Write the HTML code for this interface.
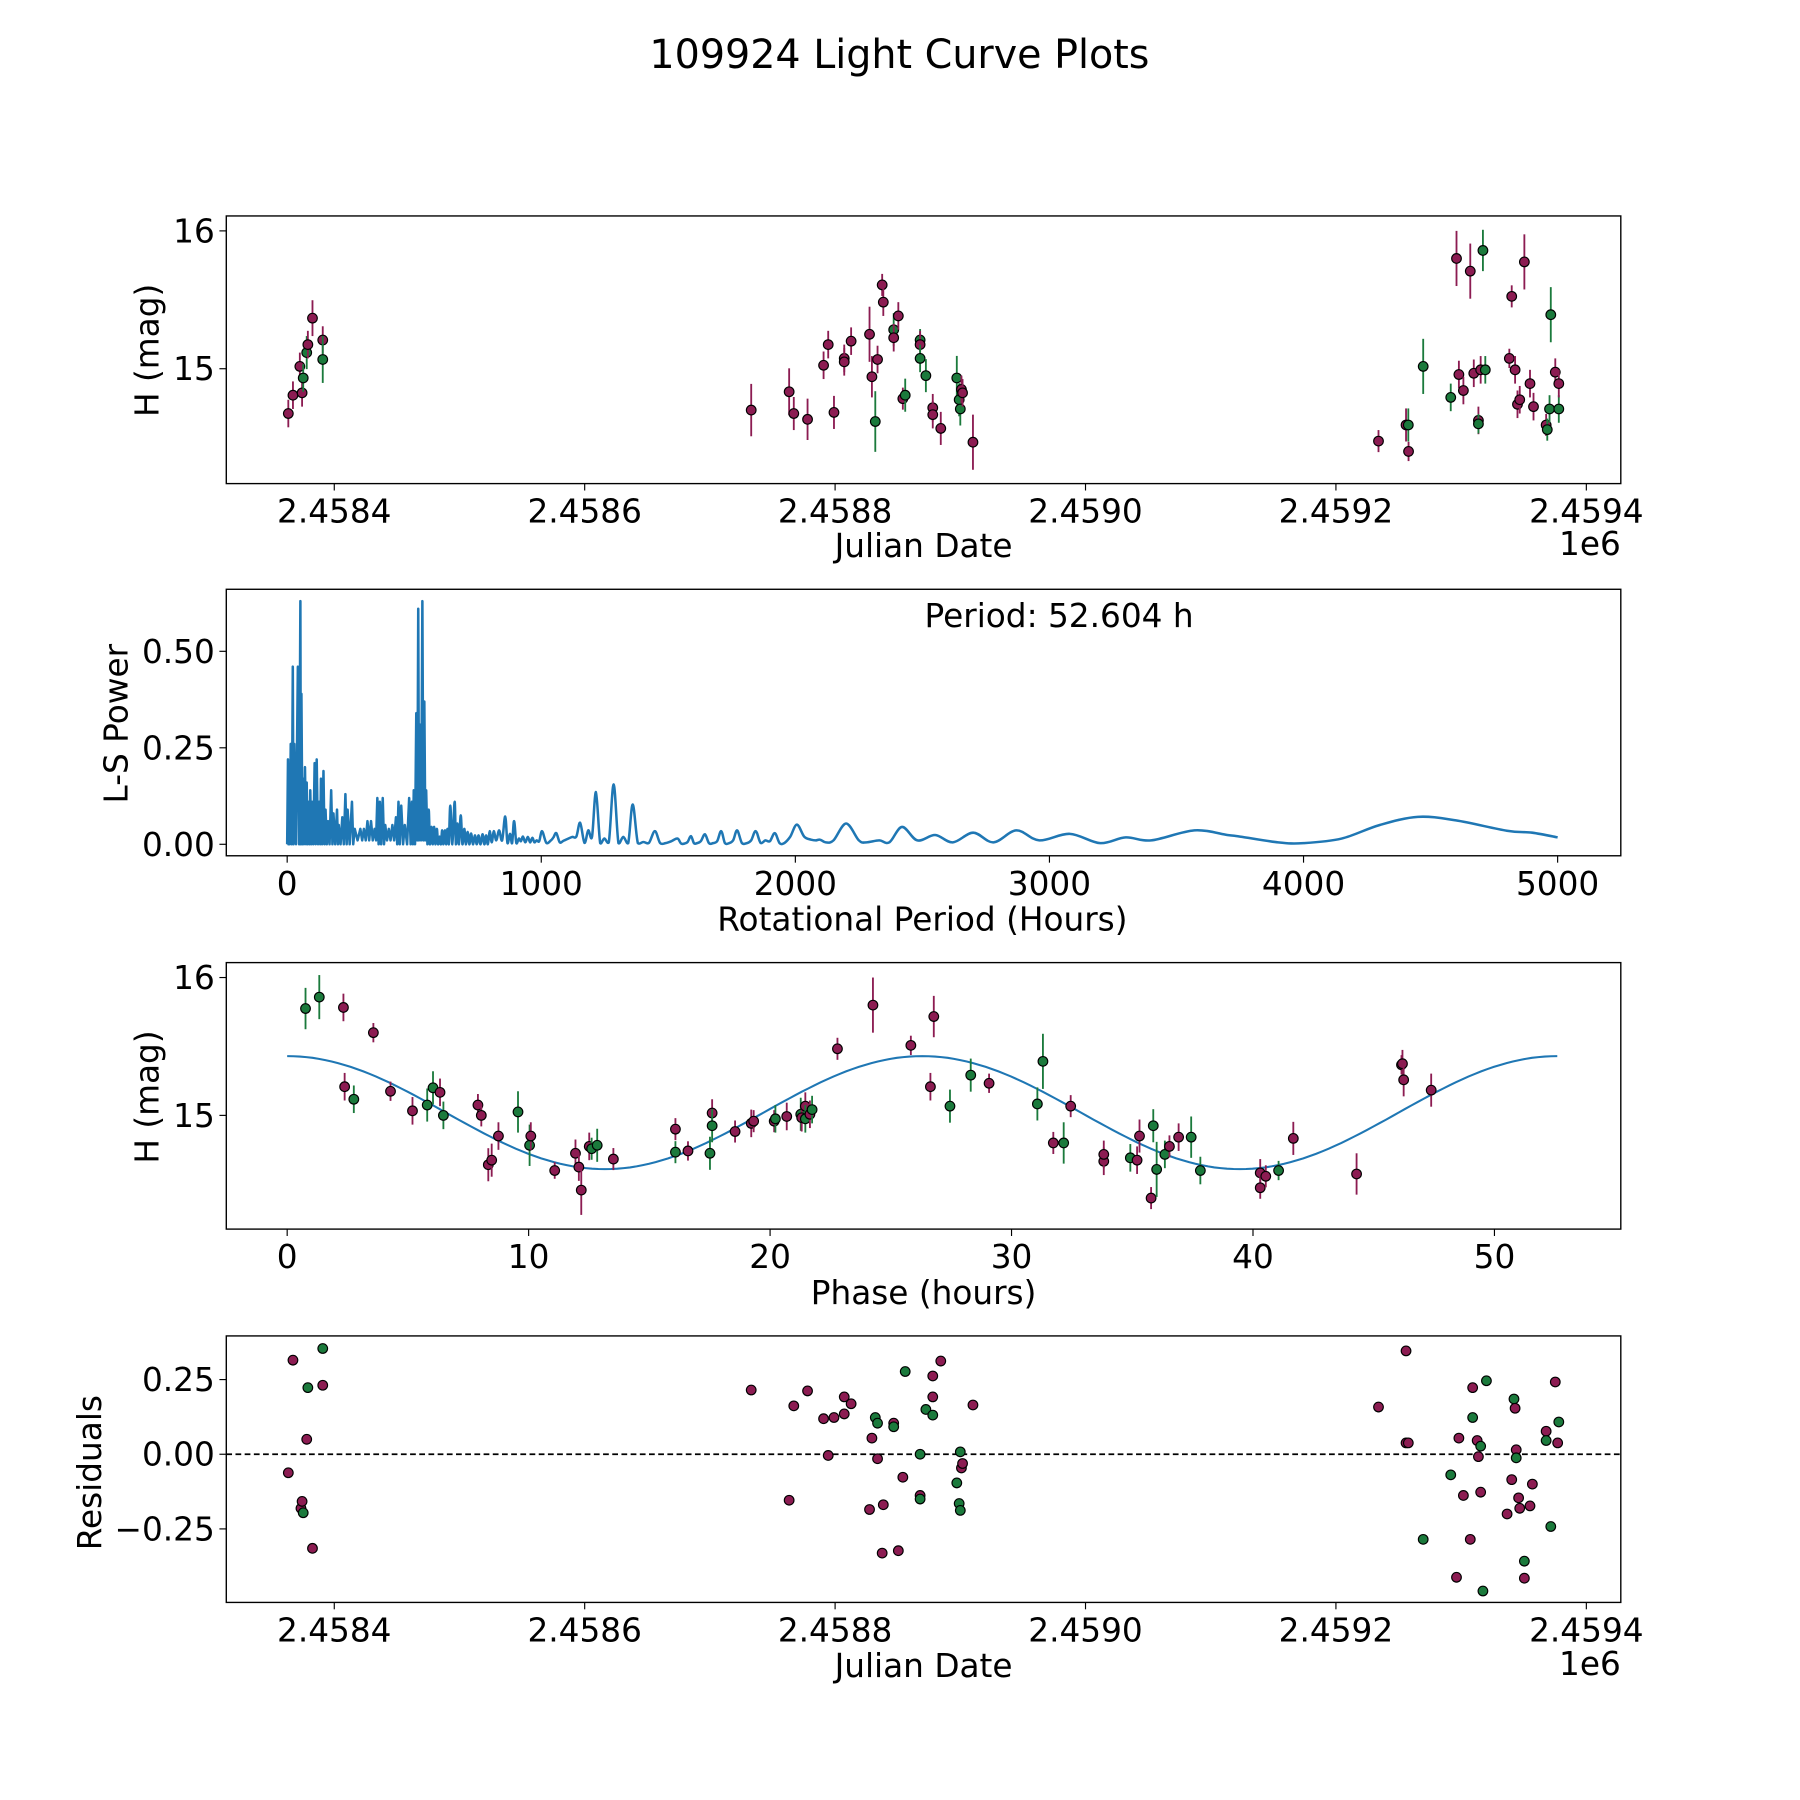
<!DOCTYPE html>
<html><head><meta charset="utf-8"><style>
html,body{margin:0;padding:0;background:#fff}
svg{display:block}
text{font-family:"DejaVu Sans","Liberation Sans",sans-serif;fill:#000}
</style></head><body>
<svg id="fig" width="1800" height="1800" viewBox="0 0 1567 1567" xmlns="http://www.w3.org/2000/svg">
<text x="783" y="59" font-size="34.5" text-anchor="middle">109924 Light Curve Plots</text>
</svg>
<script>
// ---------- DATA ----------
const lcJD = [2458363.3,2458367.0,2458372.5,2458374.3,2458375.2,2458378.0,2458378.9,2458382.6,2458390.8,2458390.8,
2458733.0,2458763.3,2458767.0,2458778.0,2458790.8,2458794.5,2458799.1,2458807.3,2458807.3,2458812.8,2458827.5,2458829.4,2458832.1,2458833.9,2458837.6,2458838.5,2458846.8,2458846.8,2458850.5,2458854.1,2458856.0,2458867.9,2458867.9,2458867.9,2458872.5,2458878.0,2458878.0,2458884.4,2458897.2,2458899.1,2458900.0,2458900.9,2458901.8,2458910.1,
2459234.0,2459256.0,2459257.8,2459258.0,2459269.7,2459291.7,2459296.3,2459298.2,2459301.8,2459307.3,2459310.1,2459313.8,2459313.8,2459315.6,2459317.4,2459319.3,2459338.5,2459340.4,2459343.1,2459345.0,2459346.8,2459350.5,2459355.0,2459357.8,2459367.9,2459368.8,2459370.6,2459371.6,2459375.2,2459378.0,2459378.0];
const lcMag = [14.675,14.808,15.017,14.825,14.933,15.117,15.175,15.367,15.208,15.067,
14.700,14.833,14.675,14.633,15.025,15.175,14.683,15.075,15.05,15.2,15.25,14.942,14.617,15.067,15.608,15.483,15.283,15.225,15.383,14.783,14.808,15.208,15.175,15.075,14.95,14.717,14.667,14.567,14.933,14.775,14.708,14.85,14.825,14.467,
14.475,14.592,14.592,14.4,15.017,14.792,15.8,14.958,14.842,15.708,14.967,14.625,14.6,14.992,15.858,14.992,15.075,15.525,14.992,14.742,14.775,15.775,14.892,14.725,14.592,14.558,14.708,15.392,14.975,14.708,14.892];
const lcErr = [0.1,0.1,0.1,0.1,0.1,0.12,0.1,0.13,0.1,0.17,
0.19,0.17,0.12,0.15,0.1,0.1,0.12,0.1,0.1,0.1,0.2,0.15,0.22,0.1,0.08,0.1,0.12,0.1,0.1,0.08,0.12,0.08,0.1,0.1,0.12,0.1,0.1,0.12,0.16,0.12,0.12,0.1,0.1,0.2,
0.08,0.12,0.12,0.07,0.2,0.1,0.2,0.1,0.1,0.2,0.1,0.1,0.07,0.1,0.15,0.1,0.07,0.08,0.1,0.1,0.1,0.2,0.1,0.1,0.08,0.08,0.1,0.2,0.1,0.1,0.1];
const lcCol = [0,0,0,0,1,1,0,0,0,1,
0,0,0,0,0,0,0,0,0,0,0,0,1,0,0,0,1,0,0,0,1,1,0,1,1,0,0,0,1,1,1,0,0,0,
0,0,1,0,1,1,0,0,0,0,0,0,1,0,1,1,0,0,0,0,0,0,0,0,0,1,1,1,0,1,0];

const lsPeriod = [0,3,5,7,10,14,18,22,25,28,35,42,47,52,54,56,60,63,66,70,74,77,80,84,88,91,95,98,103,108,112,116,121,126,130,133,138,143,147,151,156,161,167,173,178,182,189,196,200,203,210,217,223,229,234,238,246,255,260,266,277,288,295,302,309,316,323,330,337,344,350,355,360,365,370,376,381,386,393,400,407,414,421,428,433,438,443,449,456,463,472,480,486,491,495,498,503,508,512,516,519,523,527,532,536,540,544,547,552,557,562,568,573,578,583,589,594,600,605,610,615,621,626,631,636,642,650,659,664,670,676,683,690,697,703,710,717,724,731,739,746,753,761,769,776,783,790,797,805,813,823,834,846,858,867,877,885,893,902,912,920,928,937,947,956,965,973,982,992,1003,1020,1038,1048,1059,1073,1087,1104,1122,1138,1153,1170,1185,1200,1215,1232,1248,1266,1285,1304,1323,1342,1360,1380,1402,1424,1447,1468,1489,1512,1536,1550,1564,1576,1589,1601,1613,1628,1644,1660,1676,1692,1708,1723,1739,1755,1771,1790,1809,1826,1844,1863,1882,1900,1919,1938,1956,1980,2006,2035,2062,2080,2097,2120,2150,2200,2250,2280,2330,2370,2420,2480,2550,2620,2700,2780,2870,2960,3080,3200,3300,3400,3570,3700,3750,3900,4000,4150,4300,4450,4600,4800,4900,5000];
const lsPower = [0,0.22,0,0.20,0,0.26,0,0.46,0,0.26,0,0.46,0,0.63,0,0.39,0,0.17,0,0.20,0,0.16,0,0.11,0,0.14,0,0.11,0,0.21,0,0.22,0,0.11,0,0.17,0,0.19,0,0.09,0,0.06,0,0.14,0,0.08,0,0.09,0,0.05,0,0.07,0,0.13,0,0.09,0,0.11,0,0.04,0.01,0.04,0.01,0.04,0.01,0.06,0.01,0.06,0.01,0.04,0.01,0.12,0,0.11,0,0.12,0,0.05,0.01,0.04,0.01,0.05,0.01,0.07,0,0.11,0,0.10,0,0.05,0,0.12,0,0.11,0,0.14,0,0.34,0.01,0.61,0.01,0.31,0.01,0.63,0.01,0.37,0.01,0.14,0,0.09,0,0.045,0,0.045,0,0.04,0,0.02,0,0.036,0,0.036,0,0.04,0,0.10,0,0.11,0,0.054,0,0.075,0,0.04,0,0.032,0,0.028,0,0.023,0,0.023,0,0.026,0,0.023,0,0.034,0.005,0.034,0.01,0.036,0.01,0.072,0.003,0.027,0.003,0.06,0.003,0.015,0.008,0.02,0.005,0.019,0.005,0.017,0.005,0.01,0.008,0.034,0.004,0.01,0.018,0.029,0.005,0.009,0.014,0.019,0.02,0.056,0.004,0.036,0.02,0.135,0.003,0.015,0.005,0.155,0.003,0.019,0.003,0.103,0.003,0.006,0.004,0.034,0.003,0.003,0.008,0.015,0.002,0.002,0.006,0.021,0.003,0.003,0.008,0.026,0.003,0.003,0.008,0.034,0.003,0.003,0.01,0.036,0.003,0.003,0.01,0.034,0.004,0.01,0.008,0.029,0.003,0.003,0.02,0.051,0.02,0.012,0.01,0.012,0.005,0.01,0.054,0.01,0.005,0.01,0.005,0.045,0.01,0.024,0.005,0.03,0.005,0.036,0.01,0.027,0.003,0.018,0.01,0.036,0.024,0.02,0.005,0.003,0.015,0.05,0.071,0.062,0.035,0.03,0.018];
const periodLabel = "Period: 52.604 h";

const phHour = [0.76,1.33,2.33,3.57,2.38,2.76,4.28,5.19,5.80,6.04,6.33,6.47,7.90,8.04,8.33,8.47,8.75,9.56,10.04,10.09,11.08,11.94,12.08,12.18,12.51,12.61,12.84,13.51,16.08,16.08,16.60,17.51,17.60,17.60,18.55,19.22,19.32,20.17,20.22,20.69,21.27,21.31,21.46,21.46,21.65,21.74,22.79,24.26,25.83,26.64,26.78,27.45,28.31,29.07,31.07,31.30,31.73,32.16,32.45,33.82,33.82,34.92,35.20,35.30,35.78,35.87,36.01,36.35,36.54,36.92,37.44,37.82,40.30,40.30,40.53,41.06,41.67,44.29,46.15,46.19,46.24,47.38];
const phMag = [15.775,15.858,15.783,15.6,15.208,15.117,15.175,15.033,15.075,15.2,15.167,15.0,15.075,15.0,14.642,14.675,14.85,15.025,14.783,14.85,14.6,14.725,14.625,14.458,14.775,14.758,14.783,14.683,14.733,14.9,14.742,14.725,15.017,14.925,14.883,14.942,14.958,14.958,14.975,14.992,15.008,14.983,15.067,14.975,15.008,15.042,15.483,15.8,15.508,15.208,15.717,15.067,15.292,15.233,15.083,15.392,14.8,14.8,15.067,14.667,14.717,14.692,14.675,14.85,14.4,14.925,14.608,14.717,14.775,14.842,14.842,14.6,14.583,14.475,14.558,14.6,14.833,14.575,15.367,15.375,15.258,15.183];
const phErr = [0.15,0.16,0.1,0.07,0.1,0.1,0.07,0.1,0.12,0.12,0.1,0.1,0.08,0.08,0.12,0.12,0.1,0.15,0.15,0.1,0.06,0.1,0.1,0.18,0.1,0.08,0.12,0.08,0.08,0.08,0.07,0.12,0.1,0.12,0.08,0.1,0.08,0.08,0.1,0.1,0.12,0.1,0.1,0.1,0.1,0.1,0.08,0.2,0.07,0.1,0.15,0.12,0.12,0.07,0.12,0.2,0.08,0.15,0.08,0.1,0.1,0.1,0.1,0.12,0.08,0.12,0.2,0.1,0.08,0.1,0.15,0.1,0.1,0.08,0.08,0.07,0.12,0.15,0.07,0.1,0.12,0.12];
const phCol = [1,1,0,0,0,1,0,0,1,1,0,1,0,0,0,0,0,1,1,0,0,0,0,0,0,1,1,0,1,0,0,1,0,1,0,0,0,0,1,0,1,0,0,1,0,1,0,0,0,0,0,1,1,0,1,1,0,1,0,0,0,1,0,0,0,1,1,1,0,0,1,1,0,0,0,1,0,0,0,0,0,0];
const fitPeriod = 52.604, fitMean = 15.02, fitAmp = 0.41;

const resJD = [2458363.3,2458367.0,2458373.4,2458374.3,2458375.2,2458378.0,2458378.9,2458382.6,2458390.8,2458390.8,
2458733.0,2458763.3,2458767.0,2458778.0,2458790.8,2458794.5,2458799.1,2458807.3,2458807.3,2458812.8,2458827.5,2458829.4,2458832.1,2458833.9,2458833.9,2458837.6,2458838.5,2458846.8,2458846.8,2458850.5,2458854.1,2458856.0,2458867.9,2458867.9,2458867.9,2458872.5,2458878.0,2458878.0,2458878.0,2458884.4,2458897.2,2458899.1,2458900.0,2458900.9,2458901.8,2458900.0,2458910.1,
2459234.0,2459256.0,2459256.0,2459257.8,2459269.7,2459291.7,2459296.3,2459298.2,2459301.8,2459307.3,2459309.2,2459309.2,2459312.8,2459313.8,2459315.6,2459315.6,2459317.4,2459320.2,2459336.7,2459340.4,2459342.2,2459343.1,2459344.0,2459344.0,2459345.9,2459346.8,2459350.5,2459350.5,2459355.0,2459356.9,2459367.9,2459367.9,2459371.6,2459375.2,2459377.1,2459378.0];
const resVal = [-0.062,0.315,-0.181,-0.158,-0.196,0.050,0.223,-0.315,0.354,0.231,
0.215,-0.154,0.162,0.212,0.119,-0.004,0.123,0.192,0.135,0.169,-0.185,0.054,0.123,-0.015,0.104,-0.331,-0.169,0.104,0.092,-0.323,-0.077,0.277,0,-0.138,-0.150,0.150,0.262,0.192,0.131,0.312,-0.096,-0.165,-0.188,-0.046,-0.031,0.008,0.165,
0.158,0.346,0.038,0.038,-0.285,-0.069,-0.412,0.054,-0.138,-0.285,0.223,0.123,0.046,-0.008,0.027,-0.127,-0.458,0.246,-0.200,-0.085,0.185,0.154,0.015,-0.012,-0.146,-0.181,-0.358,-0.415,-0.173,-0.100,0.077,0.046,-0.242,0.242,0.038,0.108];
const resCol = [0,0,0,0,1,0,1,0,1,0,
0,0,0,0,0,0,0,0,0,0,0,0,1,0,1,0,0,0,1,0,0,1,1,0,1,1,0,0,1,0,1,1,1,0,0,1,0,
0,0,0,0,1,1,0,0,0,0,0,1,0,0,1,0,1,1,0,0,1,0,0,1,0,0,1,0,0,0,0,1,1,0,0,1];

const xTicksJD = [2458400,2458600,2458800,2459000,2459200,2459400];
const xTickLabelsJD = ["2.4584","2.4586","2.4588","2.4590","2.4592","2.4594"];
const magTicks = [15,16], magTickLabels = ["15","16"];
const lsXTicks = [0,1000,2000,3000,4000,5000], lsXLabels = ["0","1000","2000","3000","4000","5000"];
const lsYTicks = [0,0.25,0.5], lsYLabels = ["0.00","0.25","0.50"];
const phXTicks = [0,10,20,30,40,50], phXLabels = ["0","10","20","30","40","50"];
const resYTicks = [-0.25,0,0.25], resYLabels = ["\u22120.25","0.00","0.25"];

// ---------- DRAWING ----------
const NS = "http://www.w3.org/2000/svg";
const svg = document.getElementById("fig");
const COL = ["#8c1c52","#1b7a3c"];
const TF = 28.5, LF = 28.5;
function mk(tag, attrs, parent){ const e=document.createElementNS(NS,tag); for(const k in attrs) e.setAttribute(k,attrs[k]); (parent||svg).appendChild(e); return e; }
function lin(d0,d1,p0,p1){ return v => p0 + (v-d0)*(p1-p0)/(d1-d0); }

const L=197, R=1411;
const xJD = lin(2458400,2459400,291,1381);
const panels = [
  {top:188,bot:421,name:"lightcurve-panel"},
  {top:513,bot:745,name:"periodogram-panel"},
  {top:838,bot:1070,name:"phase-panel"},
  {top:1163,bot:1395,name:"residuals-panel"}];

function frame(p){
  const g = mk("g",{});
  
  
  return g;
}
function border(p,g){
  const r = mk("rect",{x:L,y:p.top,width:R-L,height:p.bot-p.top,fill:"none",stroke:"#000","stroke-width":1.2},g);
  
  
}
function xticks(p,g,ticks,labels,fx){
  ticks.forEach((t,i)=>{
    const x=fx(t);
    const l = mk("line",{x1:x,x2:x,y1:p.bot,y2:p.bot+6,stroke:"#000","stroke-width":1},g);
    
    
    const t2 = mk("text",{x:x,y:p.bot+34,"font-size":TF,"text-anchor":"middle"},g);
    t2.textContent = labels[i];
    
    
  });
}
function yticks(p,g,ticks,labels,fy){
  ticks.forEach((t,i)=>{
    const y=fy(t);
    const l = mk("line",{x1:L-6,x2:L,y1:y,y2:y,stroke:"#000","stroke-width":1},g);
    
    
    const t2 = mk("text",{x:L-10,y:y+10,"font-size":TF,"text-anchor":"end"},g);
    t2.textContent = labels[i];
    
    
  });
}
function label(g,txt,x,y,rot,name,anchor){
  const t = mk("text",{x:x,y:y,"font-size":LF,"text-anchor":anchor||"middle"},g);
  if(rot) t.setAttribute("transform","rotate(-90 "+x+" "+y+")");
  t.textContent = txt;
  
  
}
function pt(g,x,y,c,errTop,errBot){
  if(errTop!==undefined){
    const l = mk("line",{x1:x,x2:x,y1:errTop,y2:errBot,stroke:COL[c],"stroke-width":1.6},g);
    
    
  }
  const m = mk("circle",{cx:x,cy:y,r:4.2,fill:COL[c],stroke:"#000","stroke-width":1},g);
  
  
}

// Panel 1
(function(){
  const p=panels[0], g=frame(p);
  const fy = lin(15,16,321,201);
  border(p,g);
  lcJD.forEach((d,i)=>pt(g,xJD(d),fy(lcMag[i]),lcCol[i],fy(lcMag[i]+lcErr[i]),fy(lcMag[i]-lcErr[i])));
  xticks(p,g,xTicksJD,xTickLabelsJD,xJD);
  yticks(p,g,magTicks,magTickLabels,fy);
  label(g,"Julian Date",804,485,false,"x-axis-title");
  label(g,"1e6",1411,483,false,"x-offset-label","end");
  label(g,"H (mag)",138,305,true,"y-axis-title");
})();

// Panel 2
(function(){
  const p=panels[1], g=frame(p);
  const fx = lin(0,5000,250,1356), fy = lin(0,0.5,735,567);
  border(p,g);
  const P = lsPeriod.map((v,i)=>[fx(v),fy(lsPower[i])]);
  let d="M"+P[0][0].toFixed(1)+" "+P[0][1].toFixed(1);
  for(let i=1;i<P.length;i++){
    if(lsPeriod[i] < 560){ d+="L"+P[i][0].toFixed(1)+" "+P[i][1].toFixed(1); }
    else {
      const p0=P[Math.max(i-2,0)], p1=P[i-1], p2=P[i], p3=P[Math.min(i+1,P.length-1)];
      const c1x=p1[0]+(p2[0]-p0[0])/6, c1y=p1[1]+(p2[1]-p0[1])/6;
      const c2x=p2[0]-(p3[0]-p1[0])/6, c2y=p2[1]-(p3[1]-p1[1])/6;
      d+="C"+c1x.toFixed(1)+" "+Math.min(c1y,735.5).toFixed(1)+" "+c2x.toFixed(1)+" "+Math.min(c2y,735.5).toFixed(1)+" "+p2[0].toFixed(1)+" "+p2[1].toFixed(1);
    }
  }
  const path = mk("path",{d:d,fill:"none",stroke:"#1f77b4","stroke-width":2.2,"stroke-linejoin":"round"},g);
  
  
  xticks(p,g,lsXTicks,lsXLabels,fx);
  yticks(p,g,lsYTicks,lsYLabels,fy);
  const t = mk("text",{x:922,y:546,"font-size":28.5,"text-anchor":"middle"},g);
  t.textContent = periodLabel;
  
  
  label(g,"Rotational Period (Hours)",803,810,false,"x-axis-title");
  label(g,"L-S Power",111,630,true,"y-axis-title");
})();

// Panel 3
(function(){
  const p=panels[2], g=frame(p);
  const fx = lin(0,50,250,1301), fy = lin(15,16,971,851);
  border(p,g);
  let d="";
  for(let i=0;i<=200;i++){ const t=fitPeriod*i/200; const m=fitMean+fitAmp*Math.cos(4*Math.PI*t/fitPeriod); d+=(i?"L":"M")+fx(t).toFixed(1)+" "+fy(m).toFixed(1); }
  const c = mk("path",{d:d,fill:"none",stroke:"#1f77b4","stroke-width":1.8},g);
  
  
  phHour.forEach((h,i)=>pt(g,fx(h),fy(phMag[i]),phCol[i],fy(phMag[i]+phErr[i]),fy(phMag[i]-phErr[i])));
  xticks(p,g,phXTicks,phXLabels,fx);
  yticks(p,g,magTicks,magTickLabels,fy);
  label(g,"Phase (hours)",804,1135,false,"x-axis-title");
  label(g,"H (mag)",138,955,true,"y-axis-title");
})();

// Panel 4
(function(){
  const p=panels[3], g=frame(p);
  const fy = lin(0,0.25,1266,1201);
  border(p,g);
  const z = mk("line",{x1:L,x2:R,y1:fy(0),y2:fy(0),stroke:"#000","stroke-width":1.6,"stroke-dasharray":"5,3"},g);
  
  
  resJD.forEach((d,i)=>pt(g,xJD(d),fy(resVal[i]),resCol[i]));
  xticks(p,g,xTicksJD,xTickLabelsJD,xJD);
  yticks(p,g,resYTicks,resYLabels,fy);
  label(g,"Julian Date",804,1460,false,"x-axis-title");
  label(g,"1e6",1411,1458,false,"x-offset-label","end");
  label(g,"Residuals",88,1282,true,"y-axis-title");
})();
</script>
</body></html>
